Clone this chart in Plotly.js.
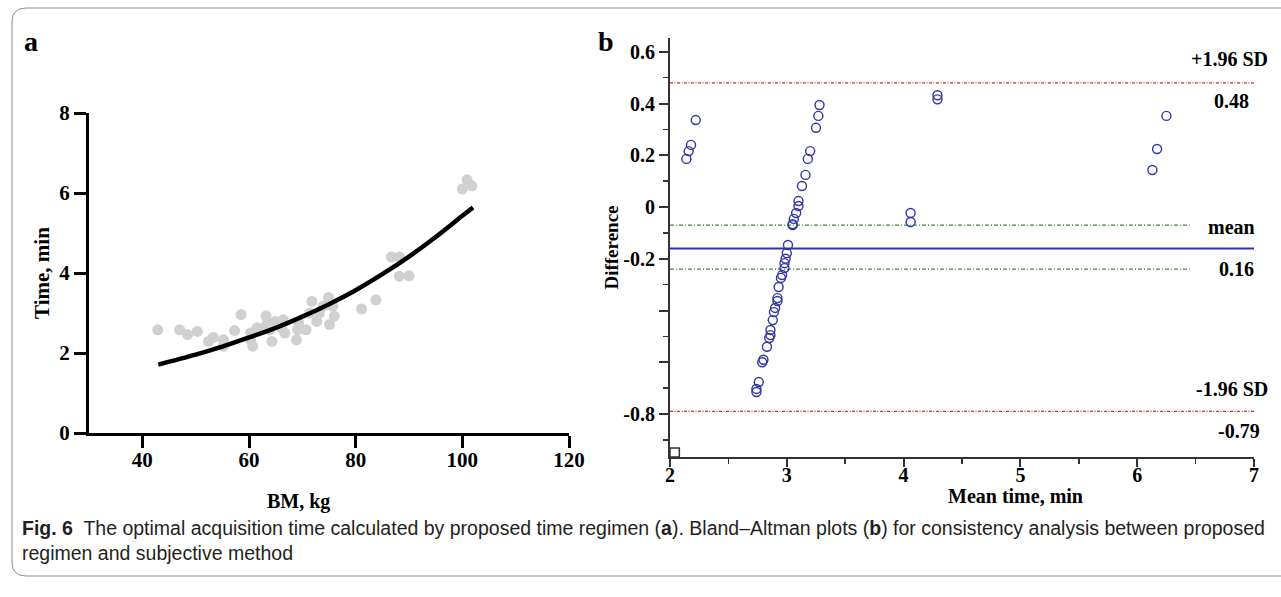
<!DOCTYPE html>
<html>
<head>
<meta charset="utf-8">
<script src="https://cdn.plot.ly/plotly-3.0.1.min.js"></script>
<style>html,body{margin:0;padding:0;background:#fff;}#chart{width:1281px;height:597px;}</style>
</head>
<body>
<div id="chart"></div>
<script>
// ---------- Panel a: body mass vs acquisition time ----------
const bmKg = [42.9,47.0,48.5,50.3,52.4,53.3,55.2,55.2,57.3,58.5,60.3,60.7,60.3,61.5,63.2,63.5,64.3,65.0,66.1,66.4,66.7,63.9,62.8,68.9,69.1,69.3,70.7,71.8,71.4,72.7,73.2,74.6,74.9,75.1,76.0,75.7,73.9,81.1,83.8,86.7,88.2,88.2,90.0,100.0,100.9,101.8];
const timeMin = [2.58,2.58,2.46,2.54,2.29,2.39,2.17,2.33,2.56,2.96,2.50,2.17,2.33,2.63,2.93,2.75,2.29,2.79,2.63,2.83,2.50,2.58,2.63,2.33,2.58,2.75,2.58,3.29,3.00,2.79,3.00,3.21,3.39,2.71,2.92,3.17,3.17,3.10,3.33,4.40,4.40,3.92,3.93,6.10,6.33,6.18];
const fitBm = [43,50,55,60,65,70,75,80,85,90,95,100,102];
const fitTime = [1.71,1.96,2.16,2.39,2.63,2.91,3.22,3.57,3.97,4.41,4.90,5.43,5.64];
const aXTicks = [40,60,80,100,120];
const aYTicks = [0,2,4,6,8];

// ---------- Panel b: Bland–Altman ----------
const meanTime = [2.14,2.16,2.18,2.22,
  2.74,2.74,2.76,2.79,2.80,2.83,2.85,2.86,2.86,2.88,2.89,2.90,2.92,2.92,2.93,2.95,2.96,2.98,2.98,2.99,3.00,3.01,3.05,
  3.05,3.06,3.08,3.10,3.10,3.13,3.16,3.18,3.20,3.25,3.27,3.28,
  4.06,4.06,4.29,4.29,6.13,6.17,6.25];
const difference = [0.186,0.216,0.240,0.336,
  -0.715,-0.703,-0.676,-0.600,-0.590,-0.540,-0.506,-0.495,-0.475,-0.437,-0.406,-0.390,-0.363,-0.352,-0.309,-0.274,-0.263,-0.236,-0.217,-0.200,-0.178,-0.147,-0.070,
  -0.066,-0.046,-0.023,0.004,0.023,0.081,0.124,0.186,0.216,0.306,0.352,0.394,
  -0.058,-0.023,0.416,0.432,0.143,0.224,0.352];
const upperLoA = 0.48, lowerLoA = -0.79, meanDiff = -0.16;
const ciUpper = -0.07, ciLower = -0.24;
const bXTicks = [2,3,4,5,6,7];
const bYTicks = [-0.8,-0.6,-0.4,-0.2,0,0.2,0.4,0.6];
const bYTickText = ['-0.8','','','-0.2','0','0.2','0.4','0.6'];
const bYMinor = [-0.9,-0.7,-0.5,-0.3,-0.1,0.1,0.3,0.5];

const W = 1281, H = 597;
const px = x => x / W, py = y => 1 - y / H;
const serif = 'Liberation Serif, Times New Roman, serif';
const sans = 'Liberation Sans Narrow, Arial Narrow, Liberation Sans, sans-serif';

const traces = [
  {x: bmKg, y: timeMin, type: 'scatter', mode: 'markers', xaxis: 'x', yaxis: 'y',
   marker: {color: '#d0d0d0', size: 11, line: {width: 0}}},
  {x: fitBm, y: fitTime, type: 'scatter', mode: 'lines', xaxis: 'x', yaxis: 'y',
   line: {color: '#000', width: 4.5, shape: 'spline'}},
  {x: [2, 7], y: [upperLoA, upperLoA], mode: 'lines', xaxis: 'x2', yaxis: 'y2',
   line: {color: '#c0392b', width: 1.2, dash: '3px,1.5px,1px,1.5px'}},
  {x: [2, 7], y: [lowerLoA, lowerLoA], mode: 'lines', xaxis: 'x2', yaxis: 'y2',
   line: {color: '#c0392b', width: 1.2, dash: '3px,1.5px,1px,1.5px'}},
  {x: [2, 6.45], y: [ciUpper, ciUpper], mode: 'lines', xaxis: 'x2', yaxis: 'y2',
   line: {color: '#3a8f3a', width: 1.2, dash: '4px,2px,1px,2px'}},
  {x: [2, 6.45], y: [ciLower, ciLower], mode: 'lines', xaxis: 'x2', yaxis: 'y2',
   line: {color: '#3a8f3a', width: 1.2, dash: '4px,2px,1px,2px'}},
  {x: [2, 7], y: [meanDiff, meanDiff], mode: 'lines', xaxis: 'x2', yaxis: 'y2',
   line: {color: '#2a34b0', width: 2}},
  {x: meanTime, y: difference, type: 'scatter', mode: 'markers', xaxis: 'x2', yaxis: 'y2',
   marker: {symbol: 'circle-open', color: '#2f36a6', size: 9, line: {width: 1.4, color: '#2f36a6'}}}
];

const tickFontA = {family: serif, size: 21, color: '#000', weight: 'bold'};
const tickFontB = {family: serif, size: 20, color: '#000', weight: 'bold'};
const titleFont = {family: serif, size: 20, color: '#000', weight: 'bold'};

const layout = {
  width: W, height: H,
  margin: {l: 0, r: 0, t: 0, b: 0},
  paper_bgcolor: '#fff', plot_bgcolor: 'rgba(0,0,0,0)',
  showlegend: false,
  xaxis: {domain: [px(89), px(569)], range: [30, 120], anchor: 'y',
    showline: true, linewidth: 3, linecolor: '#000', showgrid: false, zeroline: false,
    ticks: 'outside', ticklen: 12, tickwidth: 3, tickcolor: '#000',
    tickmode: 'array', tickvals: aXTicks, tickfont: tickFontA, ticklabelstandoff: -6},
  yaxis: {domain: [py(433), py(113)], range: [0, 8], anchor: 'x',
    showline: true, linewidth: 3, linecolor: '#000', showgrid: false, zeroline: false,
    ticks: 'outside', ticklen: 12, tickwidth: 3, tickcolor: '#000',
    tickmode: 'array', tickvals: aYTicks, tickfont: tickFontA,
    title: {text: 'Time, min', font: {family: serif, size: 21, color: '#000', weight: 'bold'}, standoff: 4}},
  xaxis2: {domain: [px(670), px(1254)], range: [2, 7], anchor: 'y2',
    showline: true, linewidth: 2, linecolor: '#333', showgrid: false, zeroline: false,
    ticks: 'outside', ticklen: 8, tickwidth: 2, tickcolor: '#333',
    tickmode: 'array', tickvals: bXTicks, ticktext: bXTicks.map(String), tickfont: tickFontB, ticklabelstandoff: -9,
    minor: {tickmode: 'array', tickvals: [2.5,3.5,4.5,5.5,6.5], ticks: 'outside', ticklen: 5, tickwidth: 1.5, tickcolor: '#333'}},
  yaxis2: {domain: [py(457), py(38)], range: [-0.966, 0.6531], anchor: 'x2',
    showline: true, linewidth: 2, linecolor: '#333', showgrid: false, zeroline: false,
    ticks: 'outside', ticklen: 9, tickwidth: 2, tickcolor: '#333',
    tickmode: 'array', tickvals: bYTicks, ticktext: bYTickText, tickfont: tickFontB,
    minor: {tickmode: 'array', tickvals: bYMinor, ticks: 'outside', ticklen: 5, tickwidth: 1.5, tickcolor: '#333'},
    title: {text: 'Difference', font: {family: serif, size: 19, color: '#000', weight: 'bold'}, standoff: 0}},
  shapes: [
    {type: 'path', xref: 'paper', yref: 'paper',
     path: `M ${px(1300)},${py(8)} L ${px(26)},${py(8)} Q ${px(12)},${py(8)} ${px(12)},${py(22)} L ${px(12)},${py(562)} Q ${px(12)},${py(576)} ${px(26)},${py(576)} L ${px(1300)},${py(576)}`,
     line: {color: '#8c8c8c', width: 1}},
    {type: 'rect', xref: 'x2', yref: 'paper', x0: 2, x1: 2.08, y0: py(457), y1: py(448),
     line: {color: '#333', width: 1.5}}
  ],
  annotations: [
    {text: 'a', x: px(22), y: py(42), xref: 'paper', yref: 'paper', xanchor: 'left', yanchor: 'middle', showarrow: false,
     font: {family: serif, size: 28, color: '#000', weight: 'bold'}},
    {text: 'b', x: px(596), y: py(42), xref: 'paper', yref: 'paper', xanchor: 'left', yanchor: 'middle', showarrow: false,
     font: {family: serif, size: 28, color: '#000', weight: 'bold'}},
    {text: 'BM, kg', x: px(298), y: py(501), xref: 'paper', yref: 'paper', xanchor: 'center', yanchor: 'middle', showarrow: false, font: titleFont},
    {text: 'Mean time, min', x: px(1015), y: py(496), xref: 'paper', yref: 'paper', xanchor: 'center', yanchor: 'middle', showarrow: false, font: titleFont},
    {text: '+1.96 SD', x: px(1270), y: py(59), xref: 'paper', yref: 'paper', xanchor: 'right', yanchor: 'middle', showarrow: false, font: tickFontB},
    {text: '0.48', x: px(1251), y: py(101), xref: 'paper', yref: 'paper', xanchor: 'right', yanchor: 'middle', showarrow: false, font: tickFontB},
    {text: 'mean', x: px(1257), y: py(227), xref: 'paper', yref: 'paper', xanchor: 'right', yanchor: 'middle', showarrow: false, font: tickFontB},
    {text: '0.16', x: px(1256), y: py(269), xref: 'paper', yref: 'paper', xanchor: 'right', yanchor: 'middle', showarrow: false, font: tickFontB},
    {text: '-1.96 SD', x: px(1270), y: py(389), xref: 'paper', yref: 'paper', xanchor: 'right', yanchor: 'middle', showarrow: false, font: tickFontB},
    {text: '-0.79', x: px(1262), y: py(431), xref: 'paper', yref: 'paper', xanchor: 'right', yanchor: 'middle', showarrow: false, font: tickFontB},
    {text: '<b>Fig. 6</b>  The optimal acquisition time calculated by proposed time regimen (<b>a</b>). Bland–Altman plots (<b>b</b>) for consistency analysis between proposed',
     x: px(20), y: py(528), xref: 'paper', yref: 'paper', xanchor: 'left', yanchor: 'middle', showarrow: false, align: 'left',
     font: {family: sans, size: 19.5, color: '#231f20'}},
    {text: 'regimen and subjective method',
     x: px(20), y: py(553), xref: 'paper', yref: 'paper', xanchor: 'left', yanchor: 'middle', showarrow: false, align: 'left',
     font: {family: sans, size: 19.5, color: '#231f20'}}
  ]
};

Plotly.newPlot('chart', traces, layout, {staticPlot: true, displayModeBar: false});
</script>
</body>
</html>
